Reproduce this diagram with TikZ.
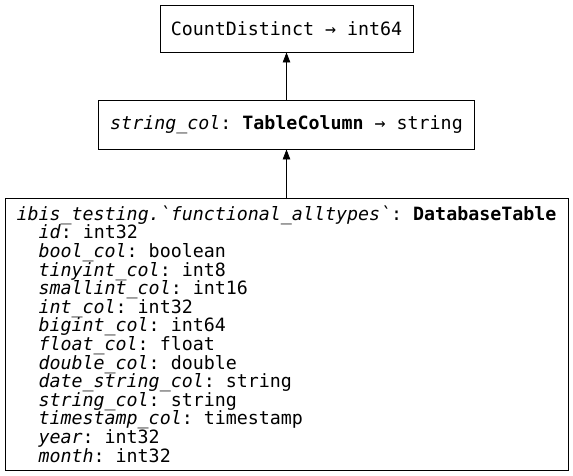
\documentclass[tikz,border=0pt]{standalone}
\usepackage{fontspec}
\setmonofont{DejaVu Sans Mono}
\usetikzlibrary{arrows.meta,positioning}
\newcommand{\colname}[1]{\textit{#1}}
\newcommand{\ind}{\hspace*{22pt}}

\begin{document}
\begin{tikzpicture}[x=1pt, y=-1pt,
  op/.style={draw, line width=0.9pt, inner sep=0pt, font=\ttfamily\fontsize{18.3}{18.6}\selectfont},
  arr/.style={-{Triangle[length=10pt, width=7.5pt]}, line width=0.9pt}
]
  \useasboundingbox (0,0) rectangle (573,475);
  \node[op, minimum width=253pt, minimum height=47pt] (cnt) at (286.5,28.5) {CountDistinct → int64};
  \node[op, minimum width=376pt, minimum height=49pt] (col) at (286.5,124.5)
    {\colname{string\_col}: \textbf{TableColumn} → string};
  \node[op, minimum width=563pt, minimum height=272pt, align=left] (tbl) at (286.5,334) {%
    \colname{ibis\_testing.\textasciigrave functional\_alltypes\textasciigrave}: \textbf{DatabaseTable}\\
    \ind\colname{id}: int32\\
    \ind\colname{bool\_col}: boolean\\
    \ind\colname{tinyint\_col}: int8\\
    \ind\colname{smallint\_col}: int16\\
    \ind\colname{int\_col}: int32\\
    \ind\colname{bigint\_col}: int64\\
    \ind\colname{float\_col}: float\\
    \ind\colname{double\_col}: double\\
    \ind\colname{date\_string\_col}: string\\
    \ind\colname{string\_col}: string\\
    \ind\colname{timestamp\_col}: timestamp\\
    \ind\colname{year}: int32\\
    \ind\colname{month}: int32};
  \draw[arr] (col.north) -- (cnt.south);
  \draw[arr] (tbl.north) -- (col.south);
\end{tikzpicture}
\end{document}
